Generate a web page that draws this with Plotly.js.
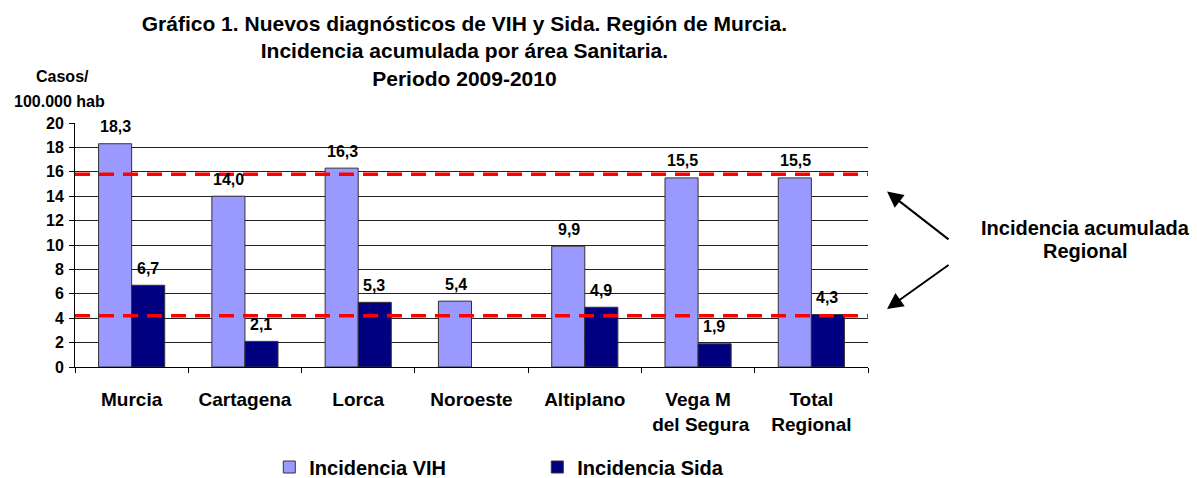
<!DOCTYPE html>
<html>
<head>
<meta charset="utf-8">
<script src="https://cdn.plot.ly/plotly-3.0.1.min.js"></script>
<style>html,body{margin:0;padding:0;background:#fff;}#chart{width:1197px;height:478px;}</style>
</head>
<body>
<div id="chart"></div>
<script>
const categories = ["Murcia", "Cartagena", "Lorca", "Noroeste", "Altiplano", "Vega M", "Total"];
const tickLabels = ["Murcia", "Cartagena", "Lorca", "Noroeste", "Altiplano", "Vega M<br> del Segura", "Total<br>Regional"];
const vih = [18.3, 14.0, 16.3, 5.4, 9.9, 15.5, 15.5];
const sida = [6.7, 2.1, 5.3, null, 4.9, 1.9, 4.3];
const vihLabels = ["18,3", "14,0", "16,3", "5,4", "9,9", "15,5", "15,5"];
const sidaLabels = ["6,7", "2,1", "5,3", "", "4,9", "1,9", "4,3"];
const regionalLines = [15.8, 4.2];
const seriesNames = ["Incidencia VIH", "Incidencia Sida"];

const FONT = "Liberation Sans, Arial, sans-serif";
const bold = (size) => ({family: FONT, size: size, color: "#000", weight: "bold"});

const traces = [
  {type: "bar", x: categories, y: vih, name: seriesNames[0],
   marker: {color: "#9999FF", line: {color: "#333333", width: 1}}},
  {type: "bar", x: categories, y: sida, name: seriesNames[1],
   marker: {color: "#000080", line: {color: "#333333", width: 1}}}
];

const annotations = [];
categories.forEach((c, i) => {
  annotations.push({x: c, y: vih[i], xref: "x", yref: "y", text: vihLabels[i], showarrow: false,
    xshift: -16, yshift: 17, font: bold(16)});
  if (sida[i] !== null) {
    annotations.push({x: c, y: sida[i], xref: "x", yref: "y", text: sidaLabels[i], showarrow: false,
      xshift: 16, yshift: 17, font: bold(16)});
  }
});
annotations.push({xref: "paper", yref: "paper", x: -0.016, y: 1.192, xanchor: "center", yanchor: "middle",
  text: "Casos/", showarrow: false, font: bold(16)});
annotations.push({xref: "paper", yref: "paper", x: -0.019, y: 1.089, xanchor: "center", yanchor: "middle",
  text: "100.000 hab", showarrow: false, font: bold(16)});
annotations.push({xref: "paper", yref: "paper", x: 1.2737, y: 0.571, xanchor: "center", yanchor: "middle",
  text: "Incidencia acumulada", showarrow: false, font: bold(20)});
annotations.push({xref: "paper", yref: "paper", x: 1.2737, y: 0.477, xanchor: "center", yanchor: "middle",
  text: "Regional", showarrow: false, font: bold(20)});
annotations.push({xref: "paper", yref: "paper", x: 1.024, y: 0.719, text: "", showarrow: true,
  ax: 63, ay: 49, arrowhead: 2, arrowsize: 1.6, arrowwidth: 2, arrowcolor: "#000"});
annotations.push({xref: "paper", yref: "paper", x: 1.024, y: 0.238, text: "", showarrow: true,
  ax: 63, ay: -45, arrowhead: 2, arrowsize: 1.6, arrowwidth: 2, arrowcolor: "#000"});

const shapes = regionalLines.map(v => ({type: "line", xref: "paper", yref: "y", x0: 0, x1: 1, y0: v, y1: v,
  line: {color: "#FF0000", width: 3.5, dash: "15px,9px"}}));

const layout = {
  width: 1197, height: 478,
  margin: {l: 75, r: 329, t: 123, b: 111},
  paper_bgcolor: "#fff", plot_bgcolor: "#fff",
  font: {family: FONT, color: "#000"},
  title: {text: "Gráfico 1. Nuevos diagnósticos de VIH y Sida. Región de Murcia.<br>Incidencia acumulada por área Sanitaria.<br>Periodo 2009-2010",
    x: 0.388, xanchor: "center", y: 0.935, yanchor: "top",
    font: bold(21)},
  barmode: "group", bargap: 0.416, bargroupgap: 0,
  xaxis: {type: "category", tickvals: categories, ticktext: tickLabels, showgrid: false, automargin: false,
    showline: true, linecolor: "#000", linewidth: 1, ticks: "outside", ticklen: 5, tickcolor: "#000",
    tickson: "boundaries", ticklabelstandoff: 15,
    tickfont: bold(19), fixedrange: true},
  yaxis: {range: [0, 20], dtick: 2, showgrid: true, gridcolor: "#222", gridwidth: 1, automargin: false,
    showline: true, linecolor: "#000", linewidth: 1, ticks: "outside", ticklen: 5, tickcolor: "#000",
    zeroline: false, ticklabelstandoff: 2,
    tickfont: bold(16), fixedrange: true},
  showlegend: true,
  legend: {orientation: "h", x: 0.245, y: 0.023, yref: "container", xanchor: "left", yanchor: "middle",
    entrywidth: 223, entrywidthmode: "pixels", itemwidth: 30,
    font: bold(20)},
  annotations: annotations,
  shapes: shapes
};

Plotly.newPlot("chart", traces, layout, {displayModeBar: false, staticPlot: true});
</script>
</body>
</html>
